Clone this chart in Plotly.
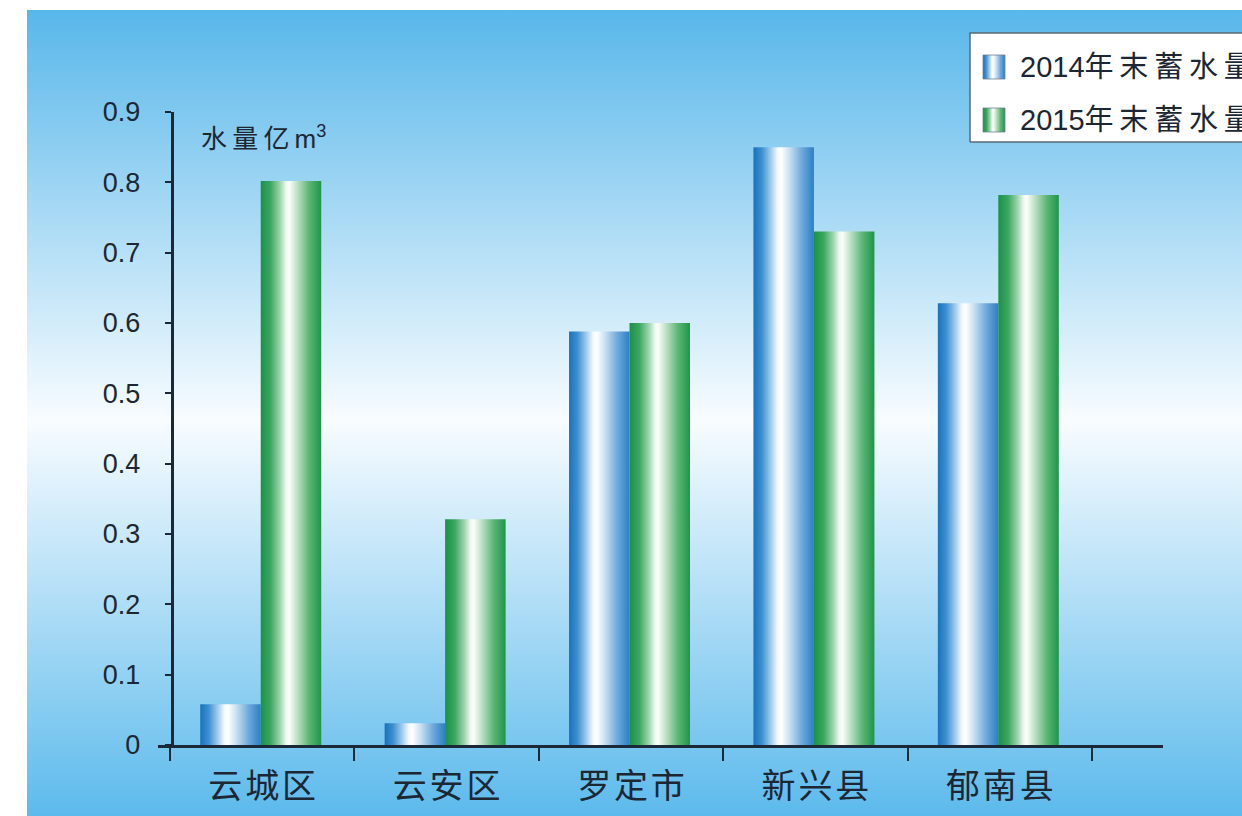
import plotly.graph_objects as go

# ---- data -------------------------------------------------------------
categories = ["云城区", "云安区", "罗定市", "新兴县", "郁南县"]
storage_2014 = [0.058, 0.031, 0.588, 0.850, 0.628]
storage_2015 = [0.802, 0.321, 0.600, 0.730, 0.782]
series_names = ["2014年末蓄水量", "2015年末蓄水量"]
y_tick_values = [0, 0.1, 0.2, 0.3, 0.4, 0.5, 0.6, 0.7, 0.8, 0.9]
y_tick_labels = ["0", "0.1", "0.2", "0.3", "0.4", "0.5", "0.6", "0.7", "0.8", "0.9"]
unit_label = "水\u2009量\u2009亿\u2009m<sup>3</sup>"

# ---- page geometry ----------------------------------------------------
W, H = 1242, 816
ML, MT = 27, 10
PW, PH = W - ML, H - MT


def fx(px):
    return (px - ML) / PW


def fy(py):
    return (H - py) / PH


TEXT = "#1c2733"
AXIS = "#1a2838"
FONT = "Liberation Sans, Noto Sans CJK SC, sans-serif"

BLUE_SCALE = [
    [0.0, "#1a72bb"], [0.14, "#3d90d0"], [0.30, "#a9d0ee"], [0.40, "#f4f9fd"],
    [0.46, "#ffffff"], [0.58, "#cfe4f4"], [0.80, "#6ea9dc"], [1.0, "#2b7fc5"],
]
GREEN_SCALE = [
    [0.0, "#1b9146"], [0.16, "#3ba660"], [0.32, "#9fd4ae"], [0.42, "#eef8f0"],
    [0.47, "#fbfefb"], [0.58, "#c8e6cf"], [0.80, "#5cb676"], [1.0, "#1e9549"],
]
SCALES = [BLUE_SCALE, GREEN_SCALE]

fig = go.Figure()

# sky-blue backdrop on a full-panel helper axis pair
fig.add_trace(go.Scatter(
    x=[0, 1, 1, 0, 0], y=[0, 0, 1, 1, 0], mode="lines", fill="toself",
    line=dict(width=0),
    fillgradient=dict(type="vertical", colorscale=[
        [0.0, "#5cbaec"], [fy(420), "#f8fcff"], [1.0, "#58b7ea"],
    ]),
    hoverinfo="skip", showlegend=False, xaxis="x", yaxis="y",
))

# legend panel (runs off the right edge)
fig.add_trace(go.Scatter(
    x=[fx(970), 1.02, 1.02, fx(970), fx(970)],
    y=[fy(142), fy(142), fy(33), fy(33), fy(142)],
    mode="lines", fill="toself", fillcolor="#ffffff",
    line=dict(color="#5d6873", width=1.5),
    hoverinfo="skip", showlegend=False, xaxis="x", yaxis="y",
))
legend_rows = [67, 120]
for name, scale, row in zip(series_names, SCALES, legend_rows):
    x0, x1 = fx(983), fx(1005)
    y0, y1 = fy(row + 12), fy(row - 12)
    fig.add_trace(go.Scatter(
        x=[x0, x1, x1, x0, x0], y=[y0, y0, y1, y1, y0],
        mode="lines", fill="toself", line=dict(color="#6f8090", width=0.8),
        fillgradient=dict(type="horizontal", colorscale=scale),
        hoverinfo="skip", showlegend=False, xaxis="x", yaxis="y",
    ))
    label = name[:4] + "\u2009".join(name[4:])
    fig.add_annotation(
        xref="paper", yref="paper", x=fx(1018), y=fy(row),
        xanchor="left", yanchor="middle", showarrow=False,
        text=label, font=dict(family=FONT, size=29, color=TEXT),
    )

# bars: each one a filled rectangle with a cylinder-like horizontal gradient
BAR_W = 0.328
BAR_SHIFT = -0.008
for idx, (values, scale) in enumerate(zip([storage_2014, storage_2015], SCALES)):
    for i, v in enumerate(values):
        left = (i - BAR_W if idx == 0 else i) + BAR_SHIFT
        right = left + BAR_W
        fig.add_trace(go.Scatter(
            x=[left, right, right, left, left], y=[0, 0, v, v, 0],
            mode="lines", fill="toself", line=dict(width=0),
            fillgradient=dict(type="horizontal", colorscale=scale),
            name=series_names[idx], hoverinfo="skip", showlegend=False,
            xaxis="x2", yaxis="y2",
        ))

fig.add_annotation(
    xref="paper", yref="paper", x=fx(199), y=fy(137),
    xanchor="left", yanchor="middle", showarrow=False,
    text=unit_label, font=dict(family=FONT, size=26, color=TEXT),
)

cat_text = ["\u200a".join(c) for c in categories]

fig.update_layout(
    width=W, height=H,
    margin=dict(l=ML, r=0, t=MT, b=0, autoexpand=False),
    paper_bgcolor="#ffffff", plot_bgcolor="rgba(0,0,0,0)",
    showlegend=False, hovermode=False,
    xaxis=dict(domain=[0, 1], range=[0, 1], visible=False, fixedrange=True),
    yaxis=dict(domain=[0, 1], range=[0, 1], visible=False, fixedrange=True),
    xaxis2=dict(
        domain=[fx(158), fx(1163)], anchor="y2",
        range=[-0.5 - 12 / 184.4, 4.5 + 71 / 184.4],
        showline=True, linecolor=AXIS, linewidth=2.5,
        showgrid=False, zeroline=False,
        tickmode="array", tickvals=list(range(len(categories))), ticktext=cat_text,
        ticks="", ticklabelstandoff=9,
        tickfont=dict(family=FONT, size=34, color=TEXT),
        minor=dict(tickmode="array",
                   tickvals=[i - 0.5 for i in range(len(categories) + 1)],
                   ticks="outside", ticklen=13, tickwidth=2, tickcolor=AXIS,
                   showgrid=False),
        fixedrange=True,
    ),
    yaxis2=dict(
        domain=[fy(745), fy(112)], anchor="free", position=fx(171.5),
        range=[0, 0.9],
        showline=True, linecolor=AXIS, linewidth=2.5,
        showgrid=False, zeroline=False,
        tickmode="array", tickvals=y_tick_values, ticktext=y_tick_labels,
        ticks="outside", ticklen=6, tickwidth=1.5, tickcolor=AXIS,
        ticklabelstandoff=19,
        tickfont=dict(family=FONT, size=27, color=TEXT),
        fixedrange=True,
    ),
)

fig.write_html("out.html")
